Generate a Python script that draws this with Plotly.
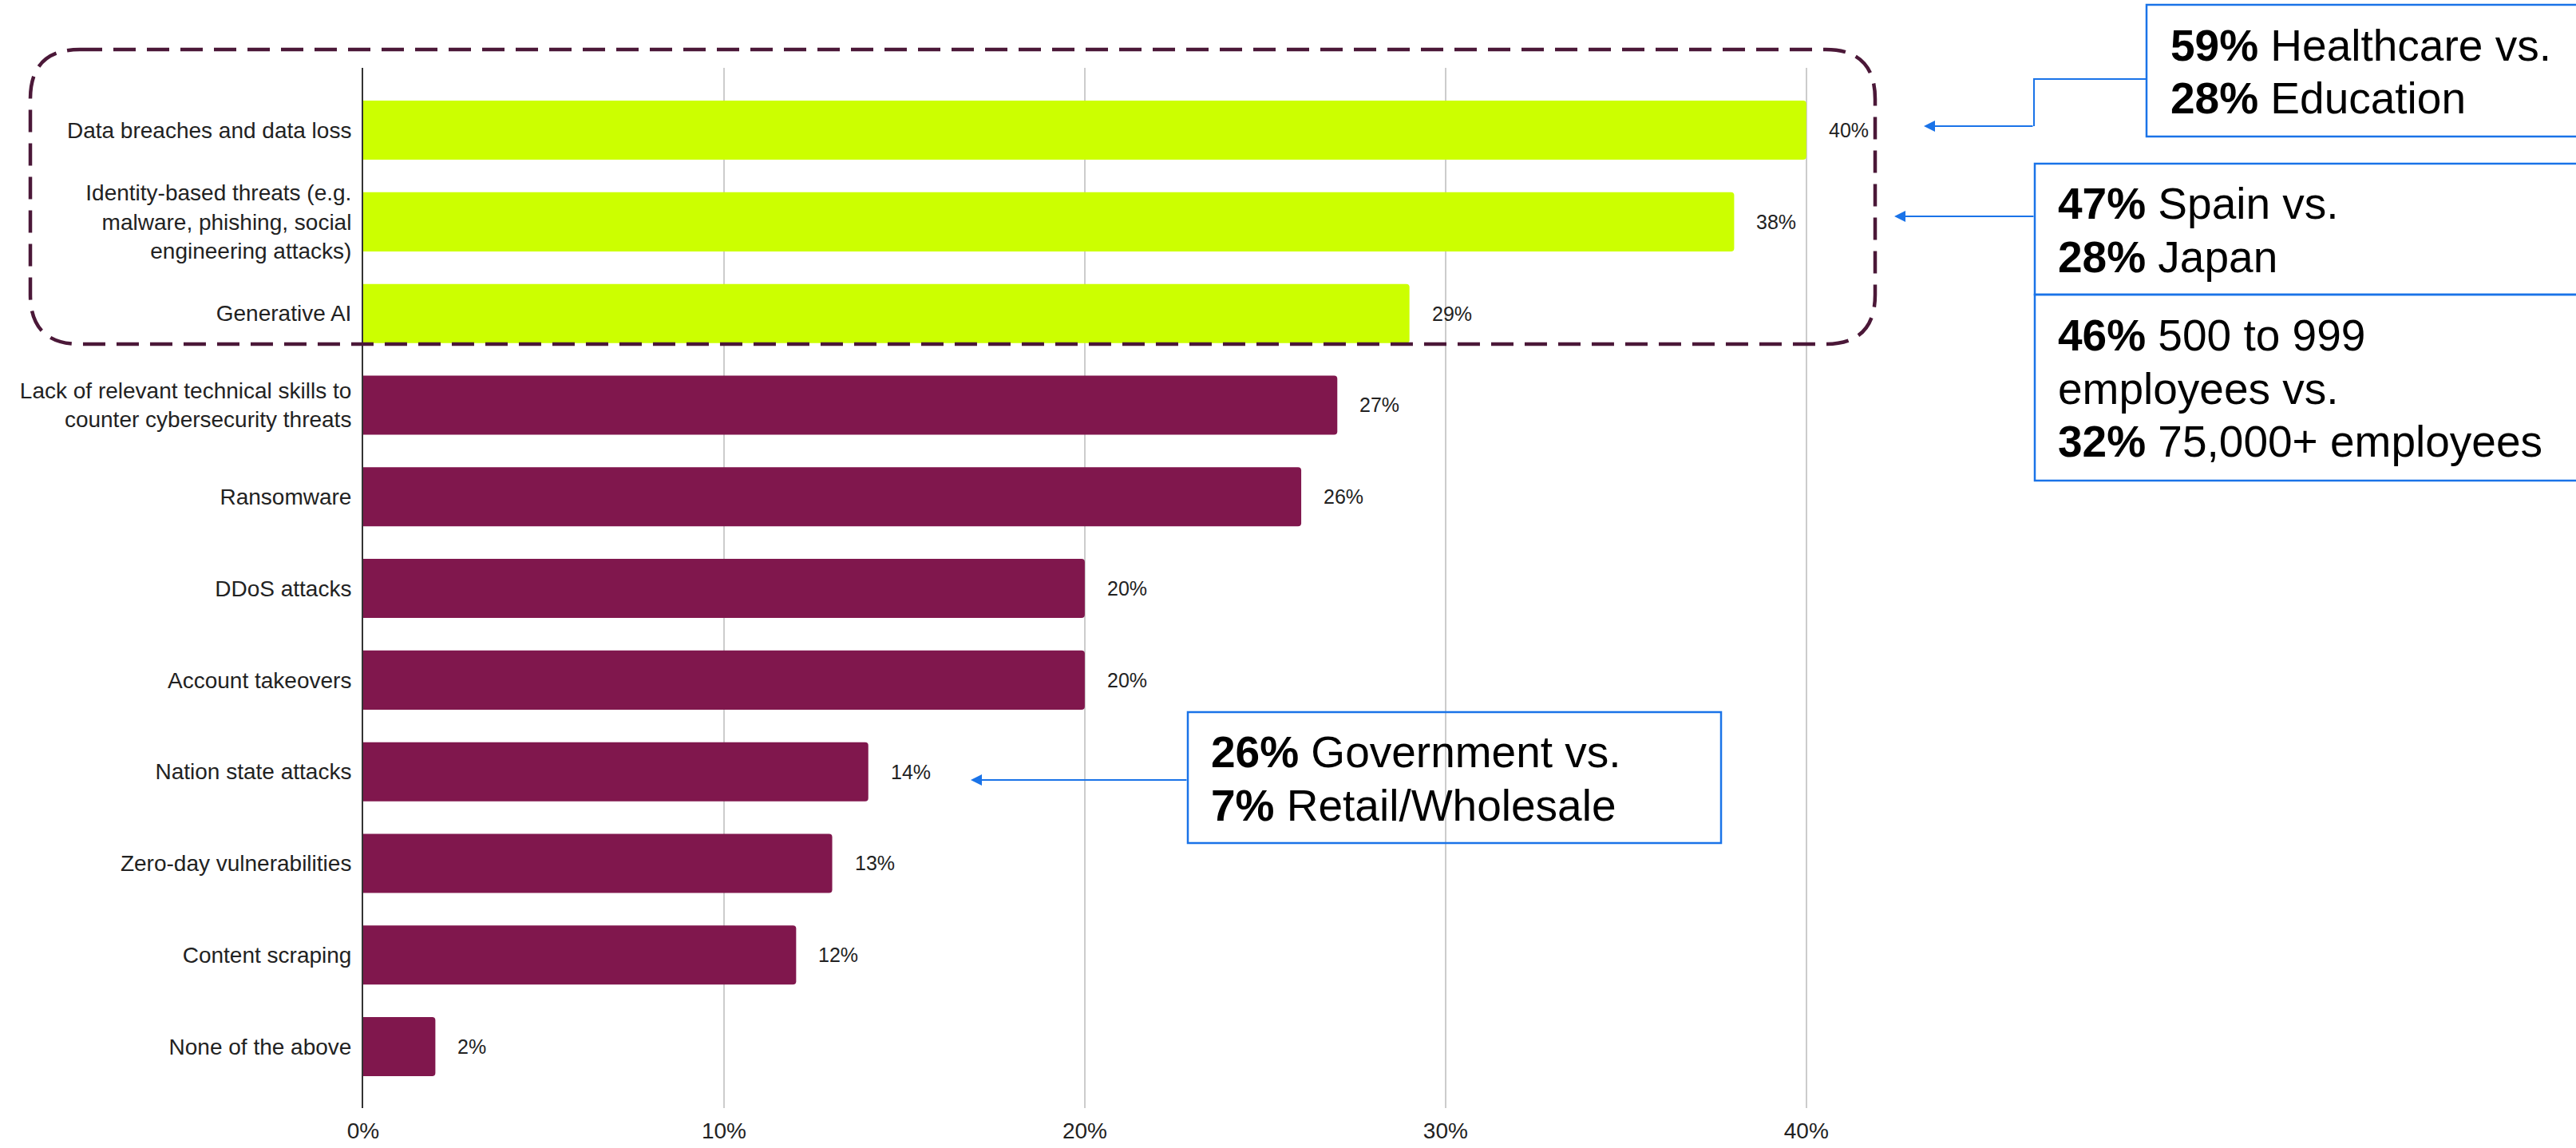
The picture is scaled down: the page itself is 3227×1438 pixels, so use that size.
import plotly.graph_objects as go

# ---- data -------------------------------------------------------------
categories = [
    "Data breaches and data loss",
    "Identity-based threats (e.g.<br>malware, phishing, social<br>engineering attacks)",
    "Generative AI",
    "Lack of relevant technical skills to<br>counter cybersecurity threats",
    "Ransomware",
    "DDoS attacks",
    "Account takeovers",
    "Nation state attacks",
    "Zero-day vulnerabilities",
    "Content scraping",
    "None of the above",
]
values = [40, 38, 29, 27, 26, 20, 20, 14, 13, 12, 2]
highlighted = [True, True, True, False, False, False, False, False, False, False, False]
x_ticks = [0, 10, 20, 30, 40]
x_tick_labels = ["0%", "10%", "20%", "30%", "40%"]

callout_healthcare = ["<b>59%</b> Healthcare vs.", "<b>28%</b> Education"]
callout_country = ["<b>47%</b> Spain vs.", "<b>28%</b> Japan"]
callout_size = ["<b>46%</b> 500 to 999", "employees vs.", "<b>32%</b> 75,000+ employees"]
callout_sector = ["<b>26%</b> Government vs.", "<b>7%</b> Retail/Wholesale"]

# ---- styling ----------------------------------------------------------
LIME = "#CCFF00"
MAROON = "#80174D"
DASH = "#4B1838"
BLUE = "#1A73E8"
FONT = "Liberation Sans, Arial, sans-serif"

FIG_W, FIG_H = 3227, 1438
M_L, M_R, M_T, M_B = 455, 919, 85, 50
PW = FIG_W - M_L - M_R
PH = FIG_H - M_T - M_B


def fx(px):
    """pixel x -> paper x"""
    return (px - M_L) / PW


def fy(py):
    """pixel y (from top) -> paper y"""
    return (FIG_H - M_B - py) / PH


colors = [LIME if h else MAROON for h in highlighted]

fig = go.Figure()
fig.add_trace(go.Bar(
    x=values,
    y=categories,
    orientation="h",
    marker=dict(color=colors, cornerradius=4, line=dict(width=0)),
    hoverinfo="skip",
))

annotations = []
# value labels to the right of each bar
for c, v in zip(categories, values):
    annotations.append(dict(
        x=v, y=c, xref="x", yref="y", text=f"{v}%", showarrow=False,
        xanchor="left", yanchor="middle", xshift=26,
        font=dict(family=FONT, size=25, color="#222222"),
    ))


def text_lines(lines, left_px, centers_px):
    for t, cy in zip(lines, centers_px):
        annotations.append(dict(
            x=fx(left_px), y=fy(cy), xref="paper", yref="paper", text=t,
            showarrow=False, xanchor="left", yanchor="middle", align="left",
            font=dict(family=FONT, size=55, color="#000000"),
        ))


text_lines(callout_healthcare, 2717, [57, 123])
text_lines(callout_country, 2576, [255, 322])
text_lines(callout_size, 2576, [420, 487, 553])
text_lines(callout_sector, 1515, [942, 1009])


def arrow(head_x, head_y, tail_x):
    annotations.append(dict(
        x=fx(head_x), y=fy(head_y), xref="paper", yref="paper", text="",
        showarrow=True, ax=tail_x - head_x, ay=0, arrowhead=2, arrowsize=1.4,
        arrowwidth=2, arrowcolor=BLUE, standoff=0, startstandoff=0,
    ))


arrow(2410, 158, 2548)
arrow(2373, 271, 2549)
arrow(1216, 977, 1488)

shapes = []


def rect(x0, y0, x1, y1):
    shapes.append(dict(
        type="rect", xref="paper", yref="paper",
        x0=fx(x0), x1=fx(x1), y0=fy(y1), y1=fy(y0),
        line=dict(color=BLUE, width=2.5), fillcolor="rgba(0,0,0,0)", layer="above",
    ))


rect(2689, 6, 3260, 171)
rect(2549, 205, 3260, 369)
rect(2549, 369, 3260, 602)
rect(1488, 892, 2156, 1056)

# elbow connector for the top callout
shapes.append(dict(
    type="path", xref="paper", yref="paper",
    path=f"M {fx(2689)},{fy(99)} L {fx(2548)},{fy(99)} L {fx(2548)},{fy(158)}",
    line=dict(color=BLUE, width=2), layer="above",
))


# dashed rounded frame round the top three items
def rounded_rect_path(x0, y0, x1, y1, r):
    X = fx
    Y = fy
    return (
        f"M {X(x0 + r)},{Y(y0)} L {X(x1 - r)},{Y(y0)} "
        f"Q {X(x1)},{Y(y0)} {X(x1)},{Y(y0 + r)} "
        f"L {X(x1)},{Y(y1 - r)} "
        f"Q {X(x1)},{Y(y1)} {X(x1 - r)},{Y(y1)} "
        f"L {X(x0 + r)},{Y(y1)} "
        f"Q {X(x0)},{Y(y1)} {X(x0)},{Y(y1 - r)} "
        f"L {X(x0)},{Y(y0 + r)} "
        f"Q {X(x0)},{Y(y0)} {X(x0 + r)},{Y(y0)} Z"
    )


shapes.append(dict(
    type="path", xref="paper", yref="paper",
    path=rounded_rect_path(38, 62, 2349, 431, 62),
    line=dict(color=DASH, width=4.5, dash="28px,14px"),
    fillcolor="rgba(0,0,0,0)", layer="above",
))

fig.update_layout(
    width=FIG_W, height=FIG_H,
    margin=dict(l=M_L, r=M_R, t=M_T, b=M_B, pad=0, autoexpand=False),
    paper_bgcolor="white", plot_bgcolor="white",
    showlegend=False,
    bargap=0.355,
    font=dict(family=FONT, size=28, color="#222222"),
    xaxis=dict(
        range=[0, 41], tickvals=x_ticks, ticktext=x_tick_labels,
        showgrid=True, gridcolor="#CCCCCC", gridwidth=2,
        zeroline=False, showline=False, ticks="",
        ticklabelstandoff=9, automargin=False,
        tickfont=dict(family=FONT, size=28, color="#222222"),
        fixedrange=True,
    ),
    yaxis=dict(
        type="category", range=[10.67, -0.68],
        showgrid=False, zeroline=False,
        showline=True, linecolor="#333333", linewidth=2,
        ticks="", ticklabelstandoff=7, automargin=False,
        tickfont=dict(family=FONT, size=28, color="#222222"),
        fixedrange=True,
    ),
    annotations=annotations,
    shapes=shapes,
)

fig.write_html("out.html")
